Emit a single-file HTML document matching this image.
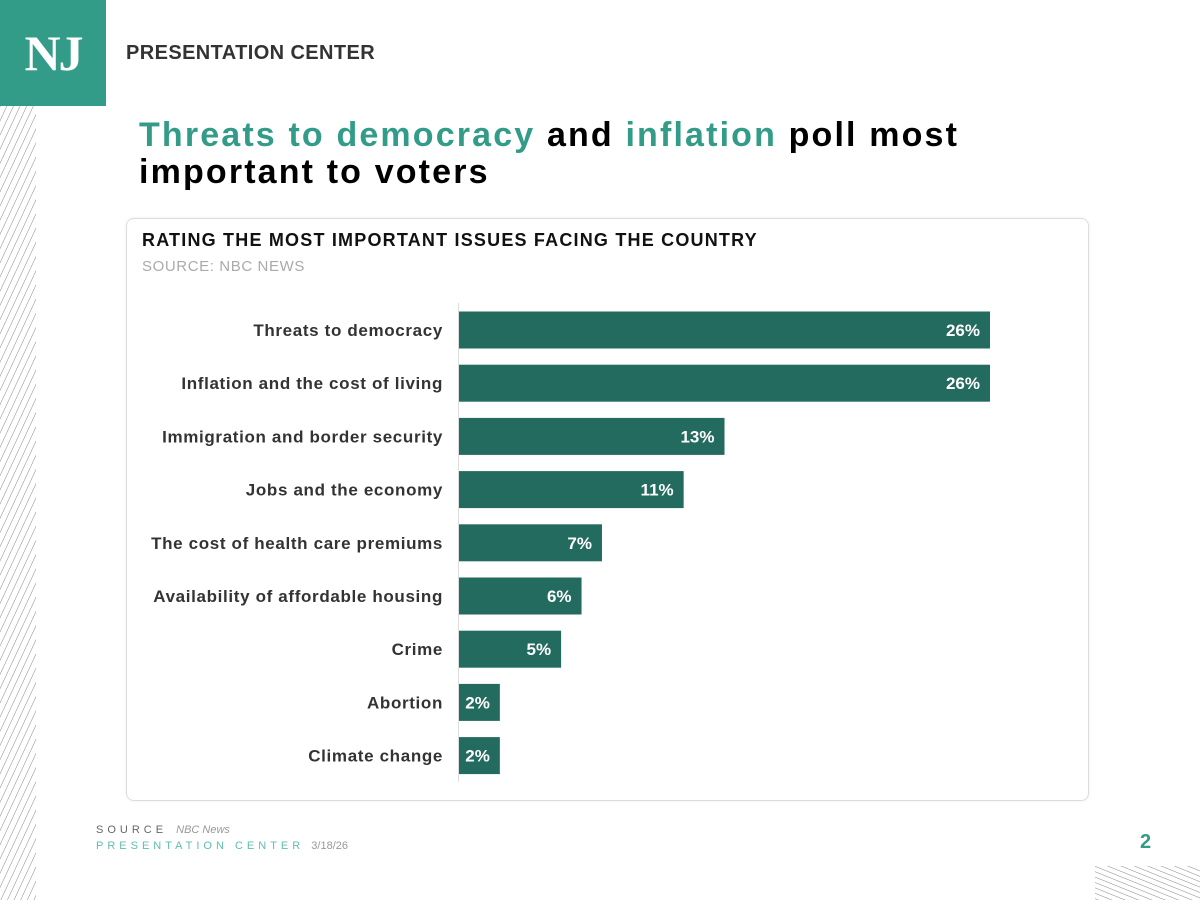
<!DOCTYPE html>
<html><head><meta charset="utf-8"><style>
body{margin:0;width:1200px;height:900px;background:#fff;position:relative;overflow:hidden;font-family:"Liberation Sans",Arial,sans-serif}
.abs{position:absolute}
</style></head><body>
<div class="abs" style="left:0;top:0;width:106px;height:106px;background:#329c88;color:#fff;font-family:'Liberation Serif',serif;font-weight:bold;font-size:50px;line-height:106px;text-align:center;letter-spacing:-2px">NJ</div>
<div class="abs" style="left:126px;top:42px;font-size:20px;font-weight:bold;color:#333;letter-spacing:0.4px">PRESENTATION CENTER</div>
<svg class="abs" style="left:0;top:106px" width="36" height="794">
<defs><pattern id="h1" width="6" height="6" patternUnits="userSpaceOnUse" patternTransform="rotate(25)"><line x1="0" y1="0" x2="0" y2="6" stroke="#888" stroke-width="1"/></pattern></defs>
<rect width="36" height="794" fill="url(#h1)"/></svg>
<svg class="abs" style="left:1095px;top:866px" width="105" height="34">
<defs><pattern id="h2" width="6" height="5" patternUnits="userSpaceOnUse" patternTransform="rotate(22)"><line x1="0" y1="0" x2="6" y2="0" stroke="#888" stroke-width="1"/></pattern></defs>
<rect width="105" height="34" fill="url(#h2)"/></svg>
<div class="abs" style="left:139px;top:117px;font-size:34px;font-weight:bold;line-height:37px;color:#000;width:1000px;letter-spacing:2.15px;white-space:nowrap"><span style="color:#329c88">Threats to democracy</span> and <span style="color:#329c88">inflation</span> poll most<br>important to voters</div>
<div class="abs" style="left:126px;top:218px;width:961px;height:581px;border:1px solid #ddd;border-radius:8px;box-shadow:0 0 3px rgba(0,0,0,0.08)"></div>
<div class="abs" style="left:142px;top:230px;font-size:18px;font-weight:bold;color:#111;letter-spacing:1.2px;white-space:nowrap">RATING THE MOST IMPORTANT ISSUES FACING THE COUNTRY</div>
<div class="abs" style="left:142px;top:258px;font-size:15px;color:#aaa;letter-spacing:0.6px">SOURCE: NBC NEWS</div>
<svg class="abs" id="chart" style="left:0;top:0" width="1200" height="900"></svg>
<div class="abs" style="left:96px;top:824px;font-size:11px;color:#666;letter-spacing:4px">SOURCE <i style="letter-spacing:0;color:#999;margin-left:2px">NBC News</i></div>
<div class="abs" style="left:96px;top:840px;font-size:11px;color:#5cbfb0;letter-spacing:4px">PRESENTATION CENTER <span style="letter-spacing:0;color:#999">3/18/26</span></div>
<div class="abs" style="left:1140px;top:831px;font-size:20px;font-weight:bold;color:#329c88">2</div>
<script>
const categories=["Threats to democracy","Inflation and the cost of living","Immigration and border security","Jobs and the economy","The cost of health care premiums","Availability of affordable housing","Crime","Abortion","Climate change"];
const values=[26,26,13,11,7,6,5,2,2];
const labels=["26%","26%","13%","11%","7%","6%","5%","2%","2%"];
const svg=document.getElementById('chart');const NS='http://www.w3.org/2000/svg';
const x0=459,xs=v=>x0+v*(531/26);
const yc=i=>330+i*53.2;
const ax=document.createElementNS(NS,'line');
ax.setAttribute('x1',458.5);ax.setAttribute('x2',458.5);ax.setAttribute('y1',303);ax.setAttribute('y2',782);ax.setAttribute('stroke','#ddd');


svg.appendChild(ax);
categories.forEach((c,i)=>{
const r=document.createElementNS(NS,'rect');
r.setAttribute('x',x0);r.setAttribute('y',yc(i)-18.5);r.setAttribute('width',xs(values[i])-x0);r.setAttribute('height',37);r.setAttribute('fill','#236b5e');


svg.appendChild(r);
const t=document.createElementNS(NS,'text');
t.setAttribute('x',443);t.setAttribute('y',yc(i)+6);t.setAttribute('text-anchor','end');t.setAttribute('font-size','17');t.setAttribute('font-weight','bold');t.setAttribute('fill','#333');t.setAttribute('letter-spacing','0.65');t.textContent=c;


svg.appendChild(t);
const v=document.createElementNS(NS,'text');
v.setAttribute('x',xs(values[i])-10);v.setAttribute('y',yc(i)+6);v.setAttribute('text-anchor','end');v.setAttribute('font-size','17');v.setAttribute('font-weight','bold');v.setAttribute('fill','#fff');v.textContent=labels[i];


svg.appendChild(v);
});
</script>
</body></html>
